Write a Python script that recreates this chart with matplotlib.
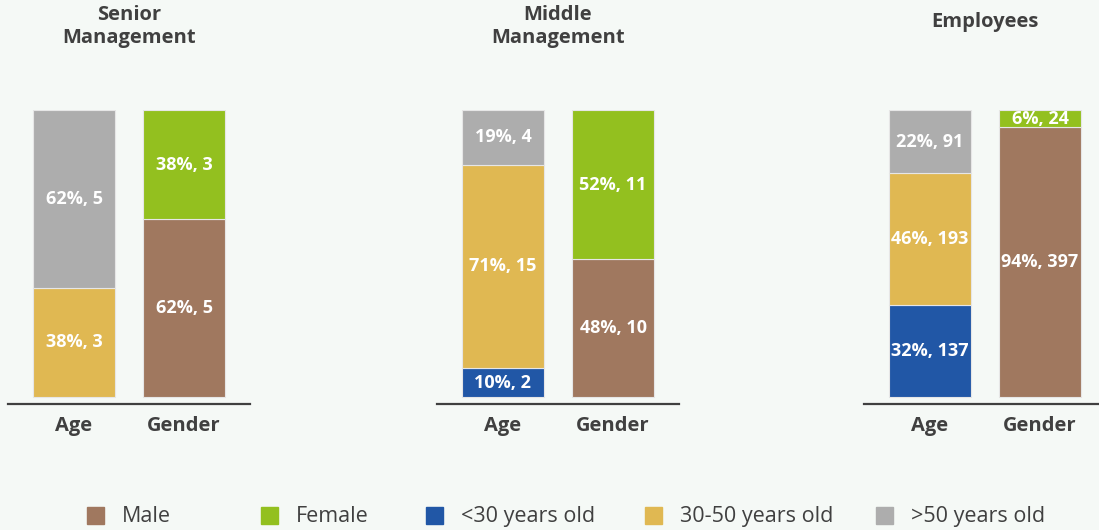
import matplotlib
matplotlib.use("Agg")
import matplotlib.pyplot as plt

plt.rcParams['font.family'] = ['Open Sans', 'DejaVu Sans']

BG = '#F5F9F6'
TEXT = '#404040'

groups = ['Senior\nManagement', 'Middle\nManagement', 'Employees']
bar_names = ['Age', 'Gender']

# age split: <30, 30-50, >50
age_counts = [[0, 3, 5], [2, 15, 4], [137, 193, 91]]
age_pct = [[0, 38, 62], [10, 71, 19], [32, 46, 22]]
# gender split: male, female
gender_counts = [[5, 3], [10, 11], [397, 24]]
gender_pct = [[62, 38], [48, 52], [94, 6]]

age_colors = ['#2157A6', '#E0B852', '#ADADAD']
gender_colors = ['#A0785F', '#93C01F']
legend_labels = ['Male', 'Female', '<30 years old', '30-50 years old', '>50 years old']
legend_colors = gender_colors + age_colors

W, H = 1099, 530
fig = plt.figure(figsize=(W / 100, H / 100), dpi=100)
fig.patch.set_facecolor(BG)

panel_left = [8, 437, 864]
panel_w = 242
ax_bottom, ax_top = 404, 110
bar_w = 0.745


def stack(ax, x, pcts, counts, colors):
    base = 0
    for p, c, col in zip(pcts, counts, colors):
        if p == 0:
            continue
        ax.bar(x, p, bar_w, bottom=base, color=col, edgecolor='#E6E6E6', linewidth=0.8)
        ax.text(x, base + p / 2, f'{p}%, {c}', ha='center', va='center',
                color='white', fontsize=13, fontweight='bold')
        base += p


for i in range(3):
    ax = fig.add_axes([panel_left[i] / W, 1 - ax_bottom / H,
                       panel_w / W, (ax_bottom - ax_top) / H])
    ax.set_facecolor('none')
    stack(ax, 0, age_pct[i], age_counts[i], age_colors)
    stack(ax, 1, gender_pct[i], gender_counts[i], gender_colors)
    ax.set_xlim(-0.6, 1.6)
    ax.set_ylim(-100 * 7 / 287, 100)
    for s in ['top', 'right', 'left']:
        ax.spines[s].set_visible(False)
    ax.spines['bottom'].set_color(TEXT)
    ax.spines['bottom'].set_linewidth(1.6)
    ax.set_yticks([])
    ax.set_xticks([0, 1])
    ax.set_xticklabels(bar_names, fontsize=14.5, fontweight='bold', color=TEXT)
    ax.tick_params(axis='x', length=0, pad=8.5)
    cx = (panel_left[i] + 0.6 / 2.2 * panel_w + 0.5 * 110) / W
    title_y = 1 - (26.5 if i < 2 else 22) / H
    fig.text(cx, title_y, groups[i], ha='center', va='center', fontsize=14.5,
             fontweight='bold', color=TEXT, linespacing=1.25)

# legend along the bottom
marker_x = [87, 261, 426, 645, 876]
for mx, lab, col in zip(marker_x, legend_labels, legend_colors):
    fig.patches.append(plt.Rectangle((mx / W, 1 - 524 / H), 17 / W, 17 / H,
                                     transform=fig.transFigure, color=col))
    fig.text((mx + 35) / W, 1 - 516.5 / H, lab, ha='left', va='center',
             fontsize=15.5, color=TEXT)

fig.savefig('out.png', dpi=100, facecolor=BG)
